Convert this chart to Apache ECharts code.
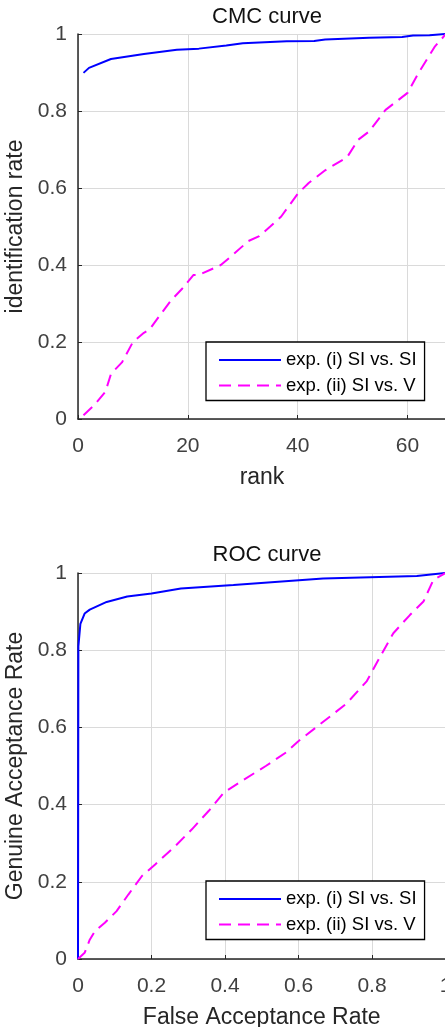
<!DOCTYPE html>
<html>
<head>
<meta charset="utf-8">
<script src="https://cdn.jsdelivr.net/npm/echarts@6/dist/echarts.min.js"></script>
<style>
html,body{margin:0;padding:0;background:#fff;}
#chart{width:445px;height:1027px;}
</style>
</head>
<body>
<div id="chart"></div>
<script>
// ---- Data ----
const seriesNames = ['exp. (i) SI vs. SI', 'exp. (ii) SI vs. V'];

// CMC curve
const cmcRankI = [1, 2, 6, 12, 18, 22, 27, 30, 38, 43, 45, 53, 59, 61, 64, 67];
const cmcRateI = [0.899, 0.912, 0.935, 0.948, 0.959, 0.962, 0.970, 0.976, 0.981, 0.982, 0.986, 0.990, 0.992, 0.996, 0.997, 1.0];
const cmcRankII = [1, 3, 5, 6, 8, 10, 12, 13, 15, 17, 19, 21, 22, 26, 28, 31, 33, 35, 37, 40, 42, 45, 49, 51, 53, 56, 57, 60, 62, 65, 67];
const cmcRateII = [0.01, 0.037, 0.071, 0.117, 0.147, 0.200, 0.224, 0.232, 0.271, 0.309, 0.339, 0.374, 0.374, 0.400, 0.424, 0.462, 0.475, 0.500, 0.526, 0.585, 0.613, 0.646, 0.680, 0.725, 0.747, 0.803, 0.814, 0.847, 0.899, 0.968, 1.0];

// ROC curve
const rocFarI = [0, 0.001, 0.0065, 0.018, 0.032, 0.078, 0.134, 0.2, 0.28, 0.423, 0.667, 0.922, 1];
const rocGarI = [0, 0.81, 0.868, 0.895, 0.905, 0.925, 0.939, 0.947, 0.96, 0.969, 0.986, 0.992, 1];
const rocFarII = [0, 0.018, 0.032, 0.046, 0.073, 0.105, 0.137, 0.174, 0.21, 0.265, 0.31, 0.356, 0.397, 0.447, 0.511, 0.566, 0.598, 0.731, 0.786, 0.822, 0.858, 0.903, 0.94, 0.967, 1];
const rocGarII = [0, 0.016, 0.050, 0.072, 0.094, 0.124, 0.167, 0.215, 0.245, 0.293, 0.336, 0.384, 0.431, 0.462, 0.500, 0.535, 0.563, 0.662, 0.720, 0.783, 0.844, 0.891, 0.926, 0.982, 1];

const titles = ['CMC curve', 'ROC curve'];
const xNames = ['rank', 'False Acceptance Rate'];
const yNames = ['identification rate', 'Genuine Acceptance Rate'];

// ---- Build ----
const zip = (a, b) => a.map((v, i) => [v, b[i]]);
const FONT = '"Liberation Sans", Arial, Helvetica, sans-serif';
const blue = '#0000ff', magenta = '#ff00ff';

function xAxis(gridIndex, max, interval, name) {
  return {
    type: 'value', gridIndex, min: 0, max, interval,
    name, nameLocation: 'middle', nameGap: 47,
    nameTextStyle: { fontFamily: FONT, fontSize: 23, color: '#262626' },
    axisLine: { show: true, onZero: false, lineStyle: { color: '#262626', width: 1.5 } },
    axisTick: { show: true, inside: true, length: 4, lineStyle: { color: '#262626' } },
    axisLabel: { fontFamily: FONT, fontSize: 21, color: '#404040', margin: 17, showMaxLabel: gridIndex === 1, hideOverlap: false },
    splitLine: { show: true, lineStyle: { color: '#dadada', width: 1 } }
  };
}
function yAxis(gridIndex, name) {
  return {
    type: 'value', gridIndex, min: 0, max: 1, interval: 0.2,
    name, nameLocation: 'middle', nameGap: 48,
    nameTextStyle: { fontFamily: FONT, fontSize: 23, color: '#262626' },
    axisLine: { show: true, onZero: false, lineStyle: { color: '#262626', width: 1.5 } },
    axisTick: { show: true, inside: true, length: 4, lineStyle: { color: '#262626' } },
    axisLabel: { fontFamily: FONT, fontSize: 21, color: '#404040', margin: 11 },
    splitLine: { show: true, lineStyle: { color: '#dadada', width: 1 } }
  };
}
function line(name, data, color, dashed, idx) {
  return {
    type: 'line', name, data, xAxisIndex: idx, yAxisIndex: idx,
    symbol: 'none', smooth: false, animation: false, clip: true,
    lineStyle: { color, width: 2, type: dashed ? [12, 7] : 'solid' },
    itemStyle: { color }
  };
}
function legend(top) {
  return {
    orient: 'vertical', left: 206, top, data: seriesNames,
    itemWidth: 62, itemHeight: 14, itemGap: 5.5,
    padding: [8, 8, 5, 12],
    borderColor: '#000', borderWidth: 1.3, backgroundColor: '#fff',
    itemStyle: { opacity: 0 },
    textStyle: { fontFamily: FONT, fontSize: 18.5, color: '#000', lineHeight: 20 },
    selectedMode: false
  };
}

const option = {
  backgroundColor: '#fff',
  animation: false,
  title: [
    { text: titles[0], left: 262, top: 1, textAlign: 'center', textStyle: { fontFamily: FONT, fontSize: 22, fontWeight: 'normal', color: '#111' } },
    { text: titles[1], left: 262, top: 539, textAlign: 'center', textStyle: { fontFamily: FONT, fontSize: 22, fontWeight: 'normal', color: '#111' } }
  ],
  grid: [
    { left: 78, top: 34, width: 368, height: 385, outerBoundsMode: 'none', containLabel: false },
    { left: 78, top: 573, width: 367.5, height: 386, outerBoundsMode: 'none', containLabel: false }
  ],
  xAxis: [xAxis(0, 67, 20, xNames[0]), xAxis(1, 1, 0.2, xNames[1])],
  yAxis: [yAxis(0, yNames[0]), yAxis(1, yNames[1])],
  legend: [legend(342), legend(881)],
  series: [
    line(seriesNames[0], zip(cmcRankI, cmcRateI), blue, false, 0),
    line(seriesNames[1], zip(cmcRankII, cmcRateII), magenta, true, 0),
    line(seriesNames[0], zip(rocFarI, rocGarI), blue, false, 1),
    line(seriesNames[1], zip(rocFarII, rocGarII), magenta, true, 1)
  ]
};

const chart = echarts.init(document.getElementById('chart'), null, { renderer: 'canvas' });
chart.setOption(option);
</script>
</body>
</html>
